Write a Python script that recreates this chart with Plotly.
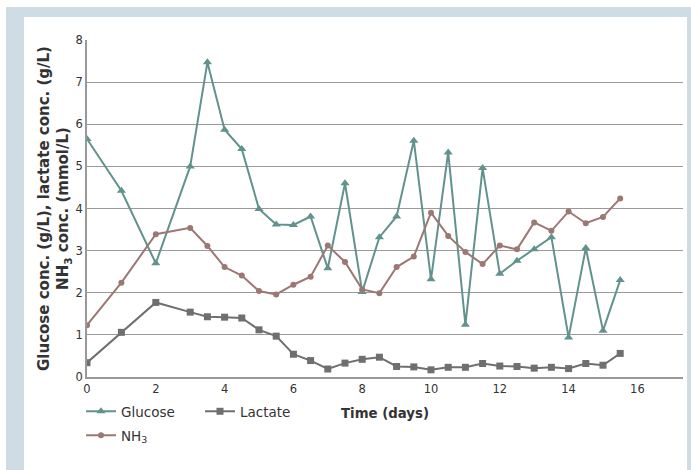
import plotly.graph_objects as go

days = [0, 1, 2, 3, 3.5, 4, 4.5, 5, 5.5, 6, 6.5, 7, 7.5, 8, 8.5, 9, 9.5, 10,
        10.5, 11, 11.5, 12, 12.5, 13, 13.5, 14, 14.5, 15, 15.5]
glucose = [5.65, 4.42, 2.70, 5.00, 7.47, 5.87, 5.41, 3.99, 3.62, 3.61, 3.81, 2.58,
           4.60, 2.02, 3.32, 3.81, 5.61, 2.32, 5.33, 1.24, 4.96, 2.45, 2.76, 3.03,
           3.32, 0.94, 3.06, 1.10, 2.30]
lactate = [0.34, 1.06, 1.77, 1.54, 1.43, 1.42, 1.40, 1.12, 0.97, 0.54, 0.39, 0.19,
           0.33, 0.42, 0.47, 0.25, 0.24, 0.17, 0.23, 0.23, 0.32, 0.26, 0.25, 0.21,
           0.23, 0.20, 0.32, 0.28, 0.56]
nh3 = [1.23, 2.24, 3.39, 3.54, 3.11, 2.61, 2.41, 2.04, 1.96, 2.19, 2.38, 3.12,
       2.73, 2.08, 1.99, 2.61, 2.86, 3.90, 3.35, 2.97, 2.68, 3.12, 3.03, 3.67,
       3.47, 3.93, 3.65, 3.80, 4.24]
x_ticks = [0, 2, 4, 6, 8, 10, 12, 14, 16]
y_ticks = [0, 1, 2, 3, 4, 5, 6, 7, 8]

FONT = "DejaVu Sans"
TEXT = "#333333"
C_GLU = "rgb(98,146,141)"
C_LAC = "rgb(110,111,113)"
C_NH3 = "rgb(156,119,116)"
FRAME = "rgb(208,220,227)"

W, H = 691, 470
ML, MR, MT, MB = 87, 8, 40, 93
PW = W - ML - MR
PH = H - MT - MB


def px(x):
    return (x - ML) / PW


def py(y):
    return 1 - (y - MT) / PH


fig = go.Figure()
fig.add_trace(go.Scatter(x=days, y=glucose, name="Glucose", mode="lines+markers",
                         line=dict(color=C_GLU, width=2),
                         marker=dict(symbol="triangle-up", size=8, color=C_GLU),
                         legend="legend"))
fig.add_trace(go.Scatter(x=days, y=lactate, name="Lactate", mode="lines+markers",
                         line=dict(color=C_LAC, width=2),
                         marker=dict(symbol="square", size=7, color=C_LAC),
                         legend="legend"))
fig.add_trace(go.Scatter(x=days, y=nh3, name="NH<sub>3</sub>", mode="lines+markers",
                         line=dict(color=C_NH3, width=2),
                         marker=dict(symbol="circle", size=6, color=C_NH3),
                         legend="legend2"))

fig.update_layout(
    width=W, height=H,
    margin=dict(l=ML, r=MR, t=MT, b=MB, autoexpand=False),
    paper_bgcolor="white",
    plot_bgcolor="rgba(0,0,0,0)",
    font=dict(family=FONT, size=11, color=TEXT),
    shapes=[
        dict(type="rect", xref="paper", yref="paper", layer="below",
             x0=px(6), x1=px(691), y0=py(470), y1=py(7),
             fillcolor=FRAME, line=dict(width=0)),
        dict(type="rect", xref="paper", yref="paper", layer="below",
             x0=px(24), x1=px(687), y0=py(470), y1=py(17),
             fillcolor="white", line=dict(width=0)),
    ],
    xaxis=dict(range=[0, PW / 34.4], tickvals=x_ticks, ticks="",
               showgrid=False, showline=True, linecolor="#999999", linewidth=1.5,
               zeroline=False, tickfont=dict(size=11.5, color=TEXT),
               title=dict(text="<b>Time (days)</b>", font=dict(size=13.3, color=TEXT),
                          standoff=14)),
    yaxis=dict(range=[0, 8], tickvals=y_ticks, ticks="",
               showgrid=True, gridcolor="#9a9a9a", gridwidth=1,
               showline=True, linecolor="#999999", linewidth=1.5,
               zeroline=False, tickfont=dict(size=11.5, color=TEXT),
               title=dict(text="<b>Glucose conc. (g/L), lactate conc. (g/L)<br>NH<sub>3</sub> conc. (mmol/L)</b>",
                          font=dict(size=15, color=TEXT), standoff=3)),
    legend=dict(orientation="h", x=px(81), y=py(396), xanchor="left", yanchor="top",
                font=dict(size=13.5, color=TEXT), entrywidth=74, bgcolor="rgba(0,0,0,0)",
                itemwidth=30),
    legend2=dict(orientation="h", x=px(81), y=py(420), xanchor="left", yanchor="top",
                 font=dict(size=13.5, color=TEXT), bgcolor="rgba(0,0,0,0)", itemwidth=30),
    showlegend=True,
)

fig.write_html("out.html", config={"displayModeBar": False},
               post_script="document.body.style.margin='0';document.body.style.overflow='hidden';")
